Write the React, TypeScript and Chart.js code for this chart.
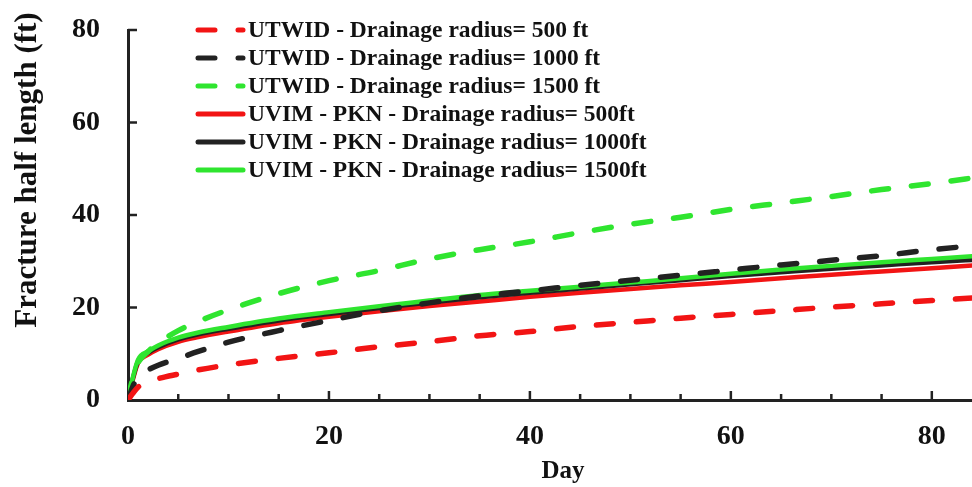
import React, { useEffect, useRef } from "react";
import { Chart, registerables } from "chart.js";

Chart.register(...registerables);

const days = [0, 0.5, 1, 2, 3, 5, 7, 10, 15, 20, 25, 30, 35, 40, 45, 50, 55, 60, 65, 70, 75, 80, 85];

const utwid500 = [0, 1.5, 2.8, 3.8, 4.6, 5.6, 6.5, 7.6, 9.0, 10.2, 11.5, 12.6, 13.9, 14.8, 15.9, 16.8, 17.7, 18.5, 19.3, 20.1, 20.8, 21.5, 22.2];
const utwid1000 = [0, 3, 5, 6.5, 7.5, 9, 10.5, 12.5, 15, 17.2, 19.3, 21, 22.5, 23.6, 24.8, 25.9, 27.0, 28.1, 29.2, 30.2, 31.2, 32.5, 33.5];
const utwid1500 = [0, 5, 8, 10.5, 12.3, 15, 17, 19.5, 23, 25.8, 28, 30.5, 32.5, 34.2, 36.2, 38, 39.5, 41.2, 42.6, 44, 45.5, 46.8, 48.3];
const uvim500 = [0, 4.5, 8, 9.8, 11, 12.6, 13.6, 14.8, 16.6, 18, 19.2, 20.3, 21.3, 22.3, 23.2, 24, 24.8, 25.5, 26.3, 27.1, 27.8, 28.5, 29.2];
const uvim1000 = [0, 4.8, 8.4, 10.2, 11.4, 13.1, 14.2, 15.4, 17.2, 18.6, 19.9, 21.1, 22.2, 23.2, 24.1, 25, 25.9, 26.8, 27.6, 28.4, 29.1, 29.8, 30.4];
const uvim1500 = [0, 5, 8.7, 10.5, 11.8, 13.5, 14.6, 15.8, 17.6, 19, 20.3, 21.5, 22.7, 23.6, 24.5, 25.4, 26.3, 27.3, 28.2, 29, 29.8, 30.5, 31.2];

const seriesLabels = [
  "UTWID - Drainage radius= 500 ft",
  "UTWID - Drainage radius= 1000 ft",
  "UTWID - Drainage radius= 1500 ft",
  "UVIM - PKN - Drainage radius= 500ft",
  "UVIM - PKN - Drainage radius= 1000ft",
  "UVIM - PKN - Drainage radius= 1500ft",
];
const seriesValues = [utwid500, utwid1000, utwid1500, uvim500, uvim1000, uvim1500];
const seriesColors = ["#f21414", "#222222", "#2fe52f", "#f21414", "#222222", "#2fe52f"];
const seriesDashed = [true, true, true, false, false, false];
const seriesOrder = [0, 1, 2, 5, 4, 3];

const yTicks = [0, 20, 40, 60, 80];
const xLabelTicks = [0, 20, 40, 60, 80];
const xTitle = "Day";
const yTitle = "Fracture half length (ft)";

const FONT = "'Liberation Serif', 'Times New Roman', serif";
const DASH = [17, 23];

export default function App() {
  const ref = useRef<HTMLCanvasElement | null>(null);

  useEffect(() => {
    if (!ref.current) return;

    const customPlugin = {
      id: "custom",
      afterDraw(chart: any) {
        const { ctx, scales } = chart;
        const xs = scales.x;
        const ys = scales.y;
        const area = chart.chartArea;
        ctx.save();
        ctx.strokeStyle = "#222222";
        ctx.lineWidth = 2.5;
        for (let v = 5; v <= xs.max; v += 5) {
          const px = xs.getPixelForValue(v);
          const len = v % 20 === 0 ? 9 : 6;
          ctx.beginPath();
          ctx.moveTo(px, area.bottom);
          ctx.lineTo(px, area.bottom - len);
          ctx.stroke();
        }
        yTicks.forEach((v) => {
          if (v === 0) return;
          const py = ys.getPixelForValue(v);
          ctx.beginPath();
          ctx.moveTo(area.left, py);
          ctx.lineTo(area.left + 9, py);
          ctx.stroke();
        });
        // axis titles
        ctx.fillStyle = "#111111";
        ctx.textAlign = "center";
        ctx.textBaseline = "middle";
        ctx.font = `bold 25px ${FONT}`;
        ctx.fillText(xTitle, 563, 472);
        ctx.save();
        ctx.translate(28, 170);
        ctx.rotate(-Math.PI / 2);
        ctx.font = `bold 31px ${FONT}`;
        ctx.fillText(yTitle, 0, 0);
        ctx.restore();
        // legend
        const x0 = 198;
        const x1 = 243;
        const rowStart = 30;
        const rowGap = 28;
        ctx.font = `bold 23.5px ${FONT}`;
        ctx.textBaseline = "middle";
        ctx.textAlign = "left";
        seriesLabels.forEach((lab, i) => {
          const y = rowStart + i * rowGap;
          ctx.beginPath();
          ctx.lineWidth = 5;
          ctx.strokeStyle = seriesColors[i];
          ctx.lineCap = "round";
          ctx.setLineDash(seriesDashed[i] ? DASH : []);
          ctx.moveTo(x0, y);
          ctx.lineTo(x1, y);
          ctx.stroke();
          ctx.setLineDash([]);
          ctx.fillStyle = "#111111";
          ctx.fillText(lab, 248, y + 1);
        });
        ctx.restore();
      },
    };

    const chart = new Chart(ref.current, {
      type: "line",
      data: {
        datasets: seriesLabels.map((lab, i) => ({
          label: lab,
          data: days.map((d, j) => ({ x: d, y: seriesValues[i][j] })),
          borderColor: seriesColors[i],
          backgroundColor: seriesColors[i],
          borderWidth: seriesDashed[i] ? 5.5 : 4.5,
          borderDash: seriesDashed[i] ? DASH : [],
          borderCapStyle: seriesDashed[i] ? "round" : "butt",
          pointRadius: 0,
          cubicInterpolationMode: "monotone",
          order: seriesOrder[i],
          fill: false,
        })),
      },
      options: {
        animation: false,
        responsive: true,
        maintainAspectRatio: false,
        layout: { padding: { top: 30, right: 0, left: 0, bottom: 0 } },
        plugins: { legend: { display: false }, tooltip: { enabled: false } },
        scales: {
          x: {
            type: "linear",
            min: 0,
            max: 84,
            afterFit: (s: any) => {
              s.height = 87;
              s.paddingLeft = 0;
              s.paddingRight = 0;
            },
            grid: { display: false, drawTicks: false },
            border: { display: true, color: "#222222", width: 3 },
            ticks: {
              stepSize: 5,
              includeBounds: false,
              autoSkip: false,
              maxRotation: 0,
              padding: 20,
              color: "#111111",
              font: { family: FONT, size: 28, weight: "bold" },
              callback: (v: any) => (xLabelTicks.includes(Number(v)) ? String(v) : ""),
            },
            title: { display: false, text: xTitle },
          },
          y: {
            type: "linear",
            min: 0,
            max: 80,
            afterFit: (s: any) => {
              s.width = 128;
              s.paddingTop = 0;
              s.paddingBottom = 0;
            },
            grid: { display: false, drawTicks: false },
            border: { display: true, color: "#222222", width: 3 },
            ticks: {
              stepSize: 20,
              padding: 28,
              color: "#111111",
              font: { family: FONT, size: 28, weight: "bold" },
            },
            title: { display: false, text: yTitle },
          },
        },
      },
      plugins: [customPlugin],
    });
    return () => chart.destroy();
  }, []);

  return (
    <div style={{ position: "fixed", left: 0, top: 0, width: 972, height: 487, background: "#fff" }}>
      <canvas ref={ref} />
    </div>
  );
}
